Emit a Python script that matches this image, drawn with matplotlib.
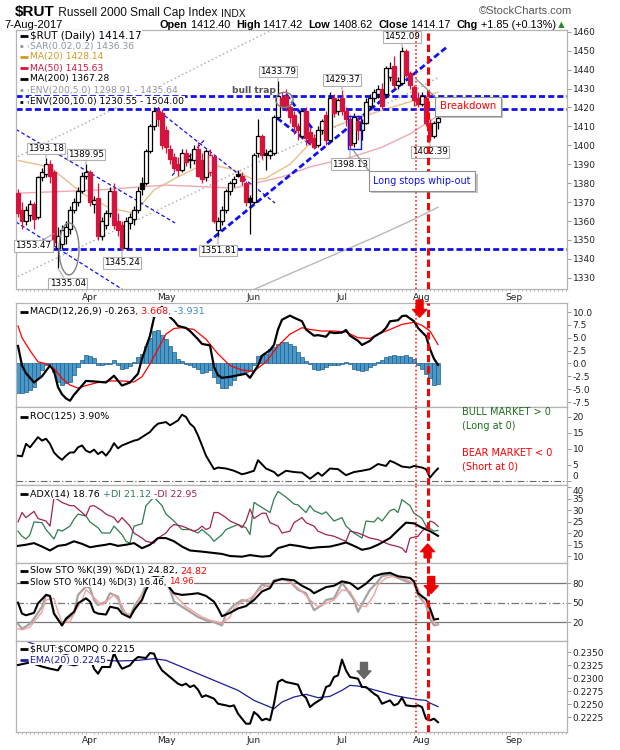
import numpy as np
import pandas as pd
import matplotlib
matplotlib.use("Agg")
import matplotlib.pyplot as plt
import matplotlib.patheffects as pe
from matplotlib.patches import Rectangle, Ellipse

plt.rcParams['font.family'] = ['DejaVu Sans']

# %% trading calendar, index 0 = 3-Apr-2017
holidays = pd.to_datetime(['2017-04-14', '2017-05-29', '2017-07-04', '2017-09-04'])
days = pd.bdate_range('2017-03-08', '2017-09-29')
days = days[~days.isin(holidays)]
pos = np.arange(len(days)) - 18

# %% $RUT daily candles, 8-Mar-2017 .. 7-Aug-2017
opens = [1375, 1366, 1360, 1363, 1369, 1362, 1383, 1385, 1390, 1386,
         1346, 1348, 1352, 1356, 1366, 1370, 1376, 1384, 1386, 1369,
         1372, 1352, 1358, 1364, 1376, 1360, 1358, 1346, 1359, 1361,
         1366, 1380, 1380, 1397, 1410, 1418, 1417, 1408, 1398, 1394,
         1390, 1387, 1396, 1392, 1392, 1398, 1392, 1383, 1386, 1394,
         1355, 1360, 1366, 1376, 1380, 1385, 1384, 1380, 1372, 1370,
         1396, 1405, 1396, 1395, 1396, 1415, 1425, 1426, 1420, 1416,
         1410, 1405, 1418, 1407, 1404, 1400, 1408, 1416, 1403, 1425,
         1418, 1425, 1418, 1414, 1401, 1413, 1408, 1412, 1421, 1425,
         1427, 1430, 1427, 1436, 1442, 1432, 1433, 1450, 1438, 1431,
         1425, 1422, 1425, 1412, 1405, 1412.40]
highs = [1377, 1370, 1368, 1371, 1370, 1384, 1388, 1393.18, 1392, 1387,
         1357, 1358, 1360, 1368, 1372, 1378, 1386, 1389.95, 1387, 1373,
         1380, 1362, 1366, 1378, 1380, 1364, 1360, 1362, 1364, 1368,
         1378, 1383, 1398, 1411, 1420, 1421, 1419, 1410, 1400, 1396,
         1394, 1398, 1398, 1396, 1400, 1402, 1396, 1398, 1398, 1395,
         1362, 1368, 1377, 1381, 1384, 1387, 1386, 1381, 1374, 1396,
         1414, 1406, 1398, 1398, 1416, 1433.79, 1428, 1430, 1422, 1418,
         1412, 1419, 1420, 1409, 1406, 1410, 1414, 1418, 1428, 1427,
         1425, 1429.37, 1420, 1416, 1417, 1416, 1414, 1425, 1427, 1430,
         1432, 1433, 1442, 1444, 1447, 1436, 1452.09, 1451, 1439, 1432,
         1428, 1428, 1426, 1414, 1413, 1417.42]
lows = [1362, 1356, 1358, 1360, 1356, 1361, 1381, 1383, 1380, 1347,
        1335.04, 1345, 1348, 1353, 1364, 1368, 1375, 1382, 1368, 1364,
        1350, 1350, 1356, 1362, 1356, 1352, 1345.24, 1346, 1356, 1358,
        1364, 1374, 1379, 1396, 1408, 1410, 1398, 1396, 1390, 1386,
        1384, 1386, 1389, 1388, 1390, 1383, 1380, 1381, 1384, 1359,
        1351.81, 1358, 1364, 1374, 1378, 1383, 1379, 1368, 1353, 1369,
        1394, 1393, 1387, 1393, 1395, 1414, 1419, 1418, 1412, 1406,
        1403, 1404, 1400, 1400, 1398, 1399, 1406, 1400, 1402, 1415,
        1416, 1416, 1410, 1398.13, 1399, 1403, 1403, 1411, 1419, 1423,
        1425, 1419, 1425, 1434, 1430, 1430, 1432, 1436, 1430, 1421,
        1420, 1421, 1410, 1402.39, 1404, 1408.62]
closes = [1364, 1360, 1366, 1369, 1361, 1383, 1386, 1390, 1384, 1349,
          1352, 1355, 1357, 1366, 1370, 1376, 1384, 1386, 1370, 1371,
          1352, 1360, 1364, 1376, 1358, 1355, 1346, 1360, 1362, 1366,
          1376, 1377, 1397, 1410, 1418, 1414, 1400, 1399, 1393, 1388,
          1387, 1396, 1391, 1393, 1398, 1384, 1382, 1397, 1395, 1360,
          1360, 1366, 1376, 1380, 1382, 1384, 1381, 1370, 1370, 1395,
          1405, 1395, 1395, 1397, 1415, 1426, 1421, 1420, 1415, 1410,
          1408, 1418, 1404, 1402, 1399, 1408, 1413, 1403, 1425, 1417,
          1424, 1418, 1414, 1400, 1415, 1408, 1412, 1423, 1425, 1428,
          1430, 1421, 1441, 1441, 1432, 1434, 1450, 1437, 1432, 1424,
          1422, 1426, 1412, 1405, 1412, 1414.17]

# moving averages (day index, value)
ma20_day = [-18, -10, -2, 5, 11, 16, 22, 29, 36, 41, 44, 50, 55, 60, 65, 73, 80, 87]
ma20_val = [1392, 1388.5, 1374.7, 1366.8, 1364.2, 1376.4, 1383.3, 1390.6, 1387,
            1381.7, 1382.6, 1390, 1401, 1409, 1413, 1418.5, 1423, 1428.14]
ma50_day = [-18, 2, 19, 36, 48, 55, 65, 73, 80, 87]
ma50_val = [1374.7, 1376.4, 1379, 1377.4, 1383.3, 1388.6, 1393.5, 1399, 1406, 1415.63]
ma200_day = [-18, -8, 2, 12, 22, 32, 42, 52, 62, 72, 80, 87]
ma200_val = [1267.3, 1277.0, 1286.4, 1296.0, 1305.6, 1315.3, 1324.8, 1334.0,
             1343.1, 1352.2, 1359.9, 1367.28]

support_levels = [1345, 1419, 1426]
price_labels = [(-11, 1393.18), (-1, 1389.95), (-9, 1353.47), (-8, 1335.04),
                (8, 1345.24), (32, 1351.81), (47, 1433.79), (63, 1429.37),
                (65, 1398.13), (78, 1452.09), (85, 1402.39)]

# MACD(12,26,9)
macd_day = [-18, -17, -16, -14, -12, -10, -9, -8, -7, -6, -5, -4, -2, -1, 1, 4, 6, 8, 10,
            12, 13, 15, 16, 17, 18, 20, 21, 22, 24, 25, 27, 28, 30, 31, 32, 33, 35, 37,
            39, 40, 42, 43, 45, 46, 47, 48, 50, 51, 53, 54, 56, 57, 59, 60, 61, 63, 64,
            65, 67, 68, 70, 71, 73, 74, 75, 77, 78, 79, 81, 82, 84, 85, 86, 87]
macd_val = [3.4, -0.4, -1.9, -3.7, -2.5, -0.4, -1.5, -4.6, -6.0, -6.8, -7.25, -6.1,
            -4.3, -3.4, -3.5, -3.7, -2.4, -4.3, -3.7, -2.0, 0.9, 5.4, 8.9, 10.3, 11.0,
            9.0, 8.3, 7.3, 6.9, 6.3, 4.7, 3.8, 3.5, -0.7, -2.3, -2.8, -2.6, -2.3, -2.0,
            -2.8, -0.4, 1.5, 2.6, 3.6, 6.6, 8.5, 9.3, 8.9, 8.2, 6.6, 5.4, 5.5, 5.2, 6.1,
            5.9, 6.0, 6.5, 5.4, 4.4, 3.6, 4.4, 5.2, 6.1, 6.9, 8.2, 8.4, 9.2, 9.3, 8.2,
            6.9, 5.3, 2.8, 0.9, -0.263]
signal_day = [-18, -17, -15, -13, -11, -9, -7, -5, -3, -1, 2, 5, 8, 11, 13, 15, 17, 19,
              21, 23, 26, 29, 32, 35, 38, 41, 44, 47, 50, 53, 55, 58, 61, 64, 67, 70,
              72, 75, 78, 81, 83, 85, 87]
signal_val = [7.3, 5.0, 2.5, 0.3, -0.05, -1.0, -2.9, -4.2, -4.8, -4.3, -3.7, -3.4,
              -3.4, -3.6, -2.6, -0.1, 2.8, 5.7, 6.8, 6.95, 6.6, 4.7, 1.85, -0.4, -1.3,
              -1.5, 0.3, 3.4, 5.7, 6.95, 6.6, 6.3, 6.3, 6.1, 5.0, 4.85, 5.7, 6.6, 7.6,
              8.0, 7.4, 6.3, 3.668]
hist_val = [-5.8, -5.8, -5.5, -5.2, -4.5, -2.9, -1.3, -0.4, -0.1, -1.6,
            -3.6, -4.1, -3.9, -3.7, -2.3, -0.7, 0.6, 1.6, 1.4, 1.0,
            -0.25, -0.4, -0.2, -0.1, 0.7, -0.4, -1.15, -0.9, -0.5, 0.25,
            1.3, 1.85, 3.3, 5.0, 6.3, 6.5, 5.5, 4.7, 3.4, 2.2,
            0.9, 0.4, -0.1, -0.4, -0.7, -1.0, -1.8, -1.65, -1.3, -2.6,
            -3.9, -4.8, -4.8, -4.2, -3.25, -2.3, -1.8, -1.65, -1.5, -0.4,
            1.5, 1.65, 1.85, 2.8, 3.1, 3.75, 4.1, 4.2, 3.75, 3.3,
            2.3, 1.2, 0.4, -0.1, -1.0, -1.3, -1.0, -0.7, -0.4, -0.25,
            -0.25, -0.1, 0.25, -0.1, -1.15, -1.3, -1.5, -1.3, -0.7, -0.25,
            0.25, 0.7, 1.2, 1.5, 1.65, 1.35, 1.5, 1.65, 1.2, 0.9,
            -0.4, -1.0, -2.0, -2.9, -4.1, -3.931]

# ROC(125)
roc_day = [-18, -17, -16, -15, -14, -13, -12, -11, -10, -9, -8, -7, -6, -5, -4, -3, -2,
           -1, 0, 1, 2, 3, 4, 5, 6, 7, 8, 10, 11, 12, 13, 15, 16, 17, 19, 20, 22, 23, 24,
           25, 26, 27, 28, 29, 31, 32, 34, 36, 38, 39, 41, 42, 44, 46, 47, 49, 51, 53,
           55, 57, 58, 60, 62, 64, 66, 68, 70, 72, 74, 75, 76, 78, 80, 81, 83, 84, 85,
           86, 87]
roc_val = [7.9, 7.7, 11.6, 10.5, 12.1, 13.7, 12.6, 13.2, 11.6, 8.9, 7.6, 6.6, 7.9, 8.9,
           8.9, 10.5, 11.1, 9.5, 8.9, 9.8, 8.4, 9.2, 7.9, 9.5, 11.8, 10.2, 11.1, 12.1,
           12.6, 12.9, 13.7, 15.3, 16.8, 17.9, 18.4, 17.4, 18.9, 20.7, 20.0, 17.9, 16.8,
           14.2, 11.1, 7.9, 3.7, 4.2, 3.9, 3.2, 2.1, 2.4, 3.2, 6.5, 3.9, 2.8, 1.6, 3.2,
           2.8, 2.6, 0.7, 2.6, 1.6, 3.9, 3.7, 1.8, 2.8, 3.2, 3.7, 5.3, 4.7, 6.3, 5.8,
           4.5, 4.2, 4.7, 4.2, 3.7, 1.05, 2.6, 3.9]

# ADX(14)
adx_day = [-18, -16, -14, -12, -10, -8, -6, -4, -2, 0, 2, 4, 5, 7, 9, 11, 13, 15, 17, 19,
           21, 23, 25, 28, 30, 33, 35, 38, 40, 43, 45, 47, 50, 52, 55, 57, 60, 62, 64,
           66, 68, 70, 72, 75, 77, 79, 81, 83, 85, 86, 87]
adx_val = [14.4, 14.9, 15.6, 14.1, 12.4, 14.4, 14.9, 16.4, 15.3, 13.8, 14.4, 14.9,
           15.3, 14.4, 14.9, 15.6, 13.4, 14.9, 17.8, 17.8, 16.4, 14.1, 12.4, 11.9,
           11.5, 10.9, 10.0, 9.7, 10.4, 9.7, 10.0, 13.4, 14.9, 14.4, 13.4, 13.8, 14.1,
           14.9, 15.9, 14.4, 12.7, 13.4, 14.9, 17.8, 21.2, 24.5, 24.2, 22.3, 20.8,
           19.8, 18.76]
pdi_day = [-18, -17, -16, -15, -14, -12, -11, -9, -8, -7, -5, -4, -3, -1, 0, 2, 3, 5, 6,
           8, 9, 10, 11, 13, 14, 16, 18, 19, 21, 23, 25, 27, 28, 30, 31, 33, 34, 36, 37,
           39, 40, 41, 43, 45, 46, 47, 49, 51, 52, 54, 55, 56, 58, 59, 61, 63, 64, 66,
           68, 69, 71, 72, 73, 75, 76, 77, 78, 80, 81, 83, 84, 86, 87]
pdi_val = [20.8, 18.6, 17.4, 19.3, 24.8, 24.5, 21.5, 17.4, 21.5, 20.8, 23.0, 26.0,
           28.2, 27.4, 24.8, 22.3, 20.0, 20.0, 23.0, 19.3, 16.4, 15.6, 23.0, 24.0,
           31.9, 35.6, 31.9, 28.2, 25.2, 21.5, 21.5, 20.0, 21.5, 18.6, 16.4, 19.3,
           21.5, 23.0, 23.7, 22.3, 19.3, 33.3, 31.1, 28.9, 34.8, 38.1, 35.6, 32.6,
           32.2, 28.9, 31.9, 29.7, 28.2, 29.2, 25.2, 26.7, 23.0, 20.0, 17.8, 25.2,
           24.8, 26.7, 25.2, 29.7, 30.4, 28.9, 34.5, 31.9, 28.6, 26.3, 23.0, 20.8,
           21.12]
mdi_day = [-18, -17, -16, -14, -13, -11, -10, -9, -7, -5, -4, -2, -1, 0, 1, 3, 4, 6, 7,
           8, 10, 11, 13, 14, 16, 17, 19, 20, 21, 23, 24, 26, 27, 28, 29, 30, 31, 32,
           34, 35, 37, 38, 39, 40, 41, 43, 44, 45, 47, 48, 50, 51, 53, 54, 56, 57, 59,
           61, 63, 64, 65, 67, 68, 70, 72, 74, 75, 77, 78, 79, 80, 82, 83, 84, 85, 86,
           87]
mdi_val = [24.8, 28.9, 26.7, 29.4, 26.3, 25.2, 23.0, 35.6, 33.3, 31.9, 31.9, 28.9,
           27.4, 31.6, 31.9, 29.7, 28.2, 26.7, 24.5, 26.7, 23.0, 20.0, 17.8, 16.4,
           15.6, 17.8, 20.0, 22.3, 23.7, 23.0, 22.3, 20.8, 21.5, 23.0, 21.5, 22.3,
           28.9, 28.9, 26.7, 25.2, 23.7, 22.3, 25.2, 30.4, 26.3, 28.6, 28.6, 24.5,
           23.0, 20.0, 20.8, 24.5, 26.7, 24.5, 23.0, 20.8, 19.3, 18.6, 17.1, 16.4,
           20.8, 20.0, 19.3, 17.8, 17.1, 15.6, 14.9, 14.1, 13.4, 11.5, 17.8, 18.6,
           20.8, 22.3, 25.2, 24.5, 22.95]

# Slow stochastics
k39_day = [-18, -17, -16, -14, -13, -11, -10, -9, -7, -6, -4, -3, -1, 0, 1, 2, 4, 5, 7, 8,
           10, 11, 13, 14, 15, 16, 18, 20, 21, 23, 25, 27, 29, 31, 32, 33, 35, 37, 39,
           41, 43, 45, 46, 48, 51, 53, 55, 56, 58, 59, 61, 63, 65, 67, 69, 71, 73, 75,
           77, 80, 81, 82, 84, 85, 86, 87]
k39_val = [49.7, 33, 30.4, 34.1, 48.7, 61.7, 60.2, 33, 14.8, 25.2, 35.7, 48.7, 56.5,
           51.3, 35.7, 33, 31.5, 43.5, 40.9, 33, 26.8, 38.3, 53.9, 69.6, 80, 90, 93,
           72, 64.3, 61.7, 62.8, 64.3, 60.2, 51.3, 40.9, 28.9, 34.1, 40.9, 44.5, 53.9,
           67, 72.2, 82.6, 86.3, 84.2, 75.8, 69.6, 64.3, 70.6, 73.7, 75.8, 82.6, 80,
           70.6, 79, 90.4, 94.1, 95.7, 90.4, 87.8, 82.6, 64.3, 55, 40.9, 23.7, 24.82]
k14_day = [-18, -17, -15, -14, -12, -11, -10, -9, -7, -6, -4, -3, -1, 0, 1, 2, 4, 5, 7, 8,
           10, 11, 13, 14, 15, 16, 18, 20, 21, 23, 25, 27, 29, 31, 33, 34, 36, 38, 40,
           42, 43, 45, 46, 48, 50, 52, 54, 56, 58, 59, 61, 63, 64, 66, 67, 69, 70, 72,
           73, 75, 77, 79, 81, 82, 84, 85, 86, 87]
k14_val = [17.4, 9.6, 17.4, 25.2, 43.5, 61.7, 59.1, 33, 14.8, 22.6, 33, 61.7, 74.8,
           72.2, 53.9, 46.1, 51.3, 64.3, 59.1, 38.3, 27.8, 43.5, 61.7, 77.4, 85, 93,
           92, 69.6, 51.3, 43.5, 35.7, 27.8, 22.6, 20, 14.8, 33, 46.1, 53.9, 51.3,
           69.6, 77.4, 74.8, 84.2, 86.3, 82.6, 69.6, 64.3, 38.3, 46.1, 53.9, 56.5, 80,
           72.2, 53.9, 35.7, 59.1, 69.6, 82.6, 90.4, 93, 87.8, 82.6, 80, 61.7, 46.1,
           25.2, 14.8, 16.46]
d3_day = [-18, -17, -15, -14, -12, -11, -9, -8, -7, -5, -4, -2, -1, 0, 2, 3, 5, 6, 8, 9,
          11, 12, 14, 15, 17, 19, 20, 22, 24, 26, 28, 30, 32, 33, 35, 36, 38, 40, 42,
          44, 45, 47, 49, 51, 53, 55, 57, 59, 61, 63, 65, 67, 69, 71, 72, 74, 76, 78,
          80, 82, 83, 85, 86, 87]
d3_val = [9.6, 8, 12.2, 20, 35.7, 53.9, 56.5, 35.7, 20, 20, 33, 53.9, 69.6, 64.3, 51.3,
          46.1, 56.5, 61.7, 46.1, 30.4, 35.7, 51.3, 69.6, 82.6, 90, 85, 69.6, 56.5,
          43.5, 35.7, 27.8, 22.6, 20, 17.4, 27.8, 40.9, 51.3, 56.5, 67, 75.8, 77.4,
          84.2, 85.2, 77.4, 67, 53.9, 43.5, 48.7, 53.9, 69.6, 67, 46.1, 43.5, 61.7,
          77.4, 87.8, 90.4, 87.8, 82.6, 72.2, 56.5, 35.7, 20, 14.96]

# $RUT:$COMPQ ratio and its EMA(20)
ratio_day = [-18, -15, -12, -10, -8, -7, -5, -4, -3, -2, 0, 1, 2, 3, 5, 6, 7, 8, 10, 11,
             12, 14, 15, 16, 17, 18, 19, 20, 22, 23, 24, 25, 26, 27, 28, 29, 31, 32, 34,
             35, 36, 37, 38, 39, 40, 41, 42, 43, 44, 45, 46, 47, 48, 49, 51, 52, 53, 54,
             55, 56, 58, 59, 60, 61, 62, 63, 64, 65, 67, 68, 69, 70, 71, 72, 73, 75, 76,
             77, 78, 79, 81, 82, 83, 84, 85, 86, 87]
ratio_val = [0.2325, 0.2330, 0.2322, 0.2318, 0.23147, 0.23276, 0.23263, 0.23244,
             0.23263, 0.23404, 0.23404, 0.23179, 0.23083, 0.23212, 0.23212, 0.23481,
             0.23308, 0.23179, 0.23244, 0.2334, 0.23404, 0.23385, 0.23481, 0.23468,
             0.23276, 0.23147, 0.23083, 0.23019, 0.22891, 0.22859, 0.22891, 0.22827,
             0.22859, 0.22776, 0.22635, 0.22667, 0.22603, 0.22506, 0.22474, 0.22455,
             0.22474, 0.22314, 0.22218, 0.22122, 0.22122, 0.22346, 0.22282, 0.22186,
             0.22218, 0.22186, 0.22506, 0.22923, 0.22968, 0.22923, 0.22891, 0.22872,
             0.22686, 0.22622, 0.22442, 0.22506, 0.22603, 0.22827, 0.22859, 0.23019,
             0.23051, 0.23353, 0.23147, 0.23019, 0.22987, 0.22827, 0.22827, 0.22763,
             0.22699, 0.22648, 0.22506, 0.2257, 0.22474, 0.22506, 0.22622, 0.22474,
             0.22455, 0.22474, 0.22442, 0.22218, 0.22186, 0.22218, 0.2215]
ema_day = [-18, -15, -10, -5, -1, 2, 7, 12, 16, 19, 22, 27, 32, 37, 41, 44, 46, 48, 51,
           54, 57, 60, 63, 65, 67, 70, 73, 76, 79, 82, 84, 85, 87]
ema_val = [0.2378, 0.2368, 0.2354, 0.2343, 0.2337, 0.23353, 0.23327, 0.2334, 0.23372,
           0.2334, 0.23244, 0.23083, 0.22923, 0.22763, 0.2257, 0.22474, 0.2241,
           0.22538, 0.22635, 0.22686, 0.22622, 0.22648, 0.22763, 0.22859, 0.22846,
           0.22795, 0.22731, 0.22667, 0.22622, 0.22584, 0.2257, 0.22519, 0.2245]

# %% styling ------------------------------------------------------------
RED = '#d4143c'
BLUE = '#1010f0'
EDGE = '#b4b4b4'
XMIN, XMAX = -18.5, 119.25
month_names = ['Apr', 'May', 'Jun', 'Jul', 'Aug', 'Sep']
month_pos = [pos[np.argmax(days.month == m)] for m in range(4, 10)]
minor_pos = pos[pos <= XMAX]

fig = plt.figure(figsize=(6.2, 7.5), dpi=100)
hdr = fig.add_axes([0, 0, 1, 1])
hdr.set_axis_off()
hdr.set_xlim(0, 620)
hdr.set_ylim(750, 0)


def panel(top, bottom):
    return fig.add_axes([16 / 620, 1 - bottom / 750, 551 / 620, (bottom - top) / 750])


def style(ax, ylim, ticks, fmt, month_labels=False):
    ax.set_xlim(XMIN, XMAX)
    ax.set_ylim(*ylim)
    ax.yaxis.tick_right()
    ax.set_yticks(ticks)
    ax.set_yticklabels([fmt.format(t) for t in ticks])
    ax.tick_params(axis='y', direction='out', length=3, width=0.7, color='#999',
                   labelcolor='#222', labelsize=6.5, pad=1)
    for s in ax.spines.values():
        s.set_color(EDGE)
        s.set_linewidth(0.9)
    ax.set_xticks(month_pos)
    ax.set_xticklabels(month_names)
    if month_labels:
        ax.set_xticks(minor_pos, minor=True)
        ax.tick_params(axis='x', which='minor', length=1.5, width=0.6, color='#aaa',
                       direction='out')
        ax.tick_params(axis='x', which='major', length=0, labelsize=6.5,
                       labelcolor='#222', pad=3)
    else:
        ax.tick_params(axis='x', which='both', length=0, labelbottom=False)
    ax.axvline(81.5, color='red', ls=(0, (1, 1.6)), lw=1.1, zorder=12)
    ax.axvline(84.4, color='red', ls=(0, (2.4, 1.3)), lw=2.2, zorder=12)


def chain(ax, x, y, parts, size, transform, family='DejaVu Sans', bg=True):
    box = dict(fc='white', ec='none', pad=0.4) if bg else None
    txt, col, wt = parts[0]
    t = ax.text(x, y, txt, color=col, weight=wt, fontsize=size, family=family,
                va='center', ha='left', transform=transform, zorder=20, bbox=box)
    for txt, col, wt in parts[1:]:
        t = ax.annotate(txt, xy=(1, 0), xycoords=t, va='bottom', ha='left', color=col,
                        weight=wt, fontsize=size, family=family, zorder=20, bbox=box)
    return t


def legend(ax, ypix, top, height, parts, size=6.8, mark='black', ls='-'):
    y = 1 - (ypix - top) / height
    chain(ax, 0.0254, y, [(p[0], p[1], 'normal') for p in parts], size, ax.transAxes)
    ax.plot([0.0073, 0.0218], [y, y], transform=ax.transAxes, color=mark, lw=2,
            ls=ls, solid_capstyle='butt', zorder=21, clip_on=False)


def block_arrow(ax, x, tail, tip, color):
    ax.annotate('', xy=(x, tip), xytext=(x, tail), annotation_clip=False, zorder=16,
                arrowprops=dict(arrowstyle='simple,head_width=1.0,head_length=0.55,'
                                'tail_width=0.5', fc=color, ec=color,
                                mutation_scale=10, shrinkA=0, shrinkB=0))


# %% header -------------------------------------------------------------
t = hdr.text(15, 12, r'\$RUT', fontsize=11, weight='bold', family='Liberation Sans',
             va='center')
t = hdr.annotate(' Russell 2000 Small Cap Index ', xy=(1, 0), xycoords=t, va='bottom',
                 fontsize=8.6, family='Liberation Sans', color='#111')
hdr.annotate('INDX', xy=(1, 0), xycoords=t, va='bottom', fontsize=7.4,
             family='Liberation Sans', color='#111')
hdr.text(572, 11, '\u00a9StockCharts.com', fontsize=8, family='Liberation Sans',
         va='center', ha='right', color='#555')
hdr.text(4, 25, '7-Aug-2017', fontsize=8, family='Liberation Sans', va='center')
chain(hdr, 160, 25, [('Open', 'black', 'bold'), (' 1412.40  ', 'black', 'normal'),
                     ('High', 'black', 'bold'), (' 1417.42  ', 'black', 'normal'),
                     ('Low', 'black', 'bold'), (' 1408.62  ', 'black', 'normal'),
                     ('Close', 'black', 'bold'), (' 1414.17  ', 'black', 'normal'),
                     ('Chg', 'black', 'bold'), (' +1.85 (+0.13%)', 'black', 'normal'),
                     ('\u25b2', '#2a8a2a', 'normal')],
      7.8, hdr.transData, family='Liberation Sans', bg=False)

# %% price panel --------------------------------------------------------
ax = panel(30, 289)
style(ax, (1324.1, 1460.9), list(range(1330, 1461, 10)), '{:d}', month_labels=True)

env5 = [v * 1.05 for v in ma200_val]
env10 = [v * 1.10 for v in ma200_val]
ax.plot(ma200_day, ma200_val, color='#b8b8b8', lw=1, zorder=1)
ax.plot(ma200_day, env5, color='#a8a8a8', lw=1, ls=(0, (1, 2)), zorder=1)
ax.plot(ma200_day, env10, color='#a8a8a8', lw=1, ls=(0, (1, 2)), zorder=1)
ax.plot(ma20_day, ma20_val, color='#e8c088', lw=1, zorder=1)
ax.plot(ma50_day, ma50_val, color='#f0a8b0', lw=1, zorder=1)

for lvl in support_levels:
    ax.axhline(lvl, color=BLUE, lw=2, ls=(0, (2.2, 1.1)), zorder=2)
# trend lines
ax.plot([29.25, 89.5], [1348.4, 1452.4], color=BLUE, lw=2, ls=(0, (2.2, 1.1)), zorder=2)
ax.plot([46.75, 56.5], [1414.4, 1398.5], color=BLUE, lw=2, ls=(0, (2.2, 1.1)), zorder=2)
ax.plot([49, 55.5], [1427, 1409], color=BLUE, lw=2, ls=(0, (2.2, 1.1)), zorder=2)
ax.plot([-18.5, 21.25], [1408.4, 1359], color=BLUE, lw=0.9, ls=(0, (3, 2)), zorder=2)
ax.plot([-18.5, 12.5], [1359.5, 1318], color=BLUE, lw=0.9, ls=(0, (3, 2)), zorder=2)
ax.plot([16.25, 46.25], [1419.7, 1369.5], color=BLUE, lw=0.9, ls=(0, (3, 2)), zorder=2)
ax.plot([20.5, 28.5], [1384, 1402.6], color=BLUE, lw=0.9, ls=(0, (3, 2)), zorder=2)

# candles
prev = [opens[0]] + closes[:-1]
for x, o, h, l, c, p in zip(pos, opens, highs, lows, closes, prev):
    col = RED if c < p else 'black'
    ax.vlines(x, l, h, color=col, lw=0.9, zorder=3)
    face = 'white' if c >= o else col
    ax.add_patch(Rectangle((x - 0.38, min(o, c)), 0.76, max(abs(c - o), 0.4),
                           fc=face, ec=col, lw=0.9, zorder=4))

ax.add_patch(Rectangle((64.5, 1398), 3.25, 17.4, fill=False, ec=BLUE, lw=1, zorder=5))
ax.add_patch(Ellipse((48.6, 1424), 4.3, 8, fill=False, ec='#808080', lw=1, zorder=5))
ax.add_patch(Ellipse((-5.25, 1345.3), 5, 27.5, fill=False, ec='#808080', lw=1, zorder=5))
ax.text(40.9, 1429.0, 'bull trap', fontsize=6.6, weight='bold', color='#555',
        ha='center', va='center', zorder=6)

label_offsets = [(0, 7), (0, 7), (-15, -9), (7, -11), (0, -10), (0, -10), (0, 7),
                 (0, 7), (0, -11), (0, 7), (0, -8)]
for (x, v), off in zip(price_labels, label_offsets):
    ax.annotate('{:.2f}'.format(v), xy=(x, v), xytext=off, textcoords='offset points',
                ha='center', va='center', fontsize=6.3, zorder=7,
                bbox=dict(boxstyle='square,pad=0.15', fc='white', ec='#b0b0b0', lw=0.8),
                arrowprops=dict(arrowstyle='-', color='#a0a0a0', lw=0.7,
                                shrinkA=0, shrinkB=0))

shadow = [pe.SimplePatchShadow(offset=(1.5, -1.5), shadow_rgbFace='#888', alpha=0.5),
          pe.Normal()]
t = ax.annotate('Breakdown', xy=(81.3, 1435.5), xytext=(94.5, 1420.6), color='red',
                fontsize=7.3, ha='center', va='center', zorder=14, annotation_clip=False,
                bbox=dict(boxstyle='square,pad=0.45', fc='white', ec='#909090', lw=0.8),
                arrowprops=dict(arrowstyle='-', color='#909090', lw=0.9, relpos=(0, 1),
                                shrinkA=0, shrinkB=0))
t.get_bbox_patch().set_path_effects(shadow)
t = ax.annotate('Long stops whip-out', xy=(65.75, 1397.5), xytext=(83, 1381),
                color=BLUE, fontsize=6.9, ha='center', va='center', zorder=14,
                bbox=dict(boxstyle='square,pad=0.5', fc='white', ec='#909090', lw=0.8),
                arrowprops=dict(arrowstyle='-', color='#909090', lw=0.9, relpos=(0, 1),
                                shrinkA=0, shrinkB=0))
t.get_bbox_patch().set_path_effects(shadow)

ptop, ph = 30, 259
legend(ax, 36, ptop, ph, [(r'\$RUT (Daily) 1414.17', 'black')], size=7.5)
legend(ax, 46, ptop, ph, [('SAR(0.02,0.2) 1436.36', '#8a96a0')], size=6.6, mark='#8a96a0', ls=':')
legend(ax, 57, ptop, ph, [('MA(20) 1428.14', '#d49a20')], size=6.6, mark='#d49a20')
legend(ax, 68, ptop, ph, [('MA(50) 1415.63', RED)], size=6.6, mark=RED)
legend(ax, 79, ptop, ph, [('MA(200) 1367.28', 'black')], size=6.6)
legend(ax, 90, ptop, ph, [('ENV(200,5.0) 1298.91 - 1435.64', '#8a96a0')], size=6.6,
       mark='#8a96a0', ls=':')
legend(ax, 101.5, ptop, ph, [('ENV(200,10.0) 1230.55 - 1504.00', 'black')], size=6.6, ls=':')

# %% MACD ---------------------------------------------------------------
ax = panel(303, 407)
style(ax, (-8.47, 11.75), [-7.5, -5, -2.5, 0, 2.5, 5, 7.5, 10], '{:.1f}')
ax.bar(pos[:len(hist_val)], hist_val, width=1.0, color='#4a98c8', ec='#1f5f8b', lw=0.5,
       zorder=2)
ax.plot(signal_day, signal_val, color='red', lw=0.9, zorder=3)
ax.plot(macd_day, macd_val, color='black', lw=1.6, zorder=4)
legend(ax, 312, 303, 104, [('MACD(12,26,9) -0.263', 'black'), (', 3.668', 'red'),
                           (', -3.931', '#3a8ac0')])
block_arrow(ax, 82.4, 12.3, 9.0, '#ee0000')

# %% ROC ----------------------------------------------------------------
ax = panel(407, 485)
style(ax, (-1.25, 23.1), [0, 5, 10, 15, 20], '{:d}')
ax.get_yticklabels()[0].set_va('bottom')
ax.axhline(0, color='#666', lw=0.8, ls=(0, (6, 2, 1, 2)), zorder=1)
ax.plot(roc_day, roc_val, color='black', lw=1.4, zorder=3)
legend(ax, 416.5, 407, 78, [('ROC(125) 3.90%', 'black')])
ax.text(93.1, 21.4, 'BULL MARKET > 0', color='#1e6e1e', fontsize=7, va='center')
ax.text(93.1, 17.3, '(Long at 0)', color='#1e6e1e', fontsize=7, va='center')
ax.text(93.1, 8.6, 'BEAR MARKET < 0', color='red', fontsize=7, va='center')
ax.text(93.1, 4.4, '(Short at 0)', color='red', fontsize=7, va='center')

# %% ADX ----------------------------------------------------------------
ax = panel(485, 563)
style(ax, (6.96, 40.87), [10, 15, 20, 25, 30, 35, 40], '{:d}')
ax.get_yticklabels()[-1].set_va('top')
ax.plot(pdi_day, pdi_val, color='#2e7d50', lw=0.9, zorder=2)
ax.plot(mdi_day, mdi_val, color='#a0244e', lw=0.9, zorder=2)
ax.plot(adx_day, adx_val, color='black', lw=1.5, zorder=3)
legend(ax, 494, 485, 78, [('ADX(14) 18.76', 'black'), (' +DI 21.12', '#2e7d50'),
                          (' -DI 22.95', '#a0244e')])
block_arrow(ax, 84.4, 9.2, 15.2, '#ee0000')

# %% Slow stochastics ---------------------------------------------------
ax = panel(563, 641)
style(ax, (-9.2, 110.8), [20, 50, 80], '{:d}')
ax.axhline(80, color='#777', lw=0.9, zorder=1)
ax.axhline(20, color='#777', lw=0.9, zorder=1)
ax.axhline(50, color='#777', lw=0.9, ls=(0, (6, 2, 1, 2)), zorder=1)
ax.plot(k14_day, k14_val, color='#a4a4a4', lw=1.6, zorder=2)
ax.plot(d3_day, d3_val, color='#f4a0a0', lw=1.0, zorder=3)
ax.plot(k39_day, k39_val, color='black', lw=1.5, zorder=4)
legend(ax, 571, 563, 78, [('Slow STO %K(39) %D(1) 24.82, ', 'black'), ('24.82', 'red')])
legend(ax, 582, 563, 78, [('Slow STO %K(14) %D(3) 16.46, ', 'black'), ('14.96', 'red')],
       size=6.3)
block_arrow(ax, 85.3, 90, 64, '#ee0000')

# %% $RUT:$COMPQ --------------------------------------------------------
ax = panel(641, 732)
style(ax, (0.21962, 0.23712), [0.2225, 0.2250, 0.2275, 0.2300, 0.2325, 0.2350], '{:.4f}',
      month_labels=True)
ax.plot(ema_day, ema_val, color='#1c1ca0', lw=0.9, zorder=2)
ax.plot(ratio_day, ratio_val, color='black', lw=1.5, zorder=3)
legend(ax, 649, 641, 91, [(r'\$RUT:\$COMPQ 0.2215', 'black')])
legend(ax, 660, 641, 91, [('EMA(20) 0.2245', '#1c1ca0')], mark='#1c1ca0')
block_arrow(ax, 68.5, 0.2330, 0.2299, '#666666')

fig.savefig('out.png', dpi=100)
